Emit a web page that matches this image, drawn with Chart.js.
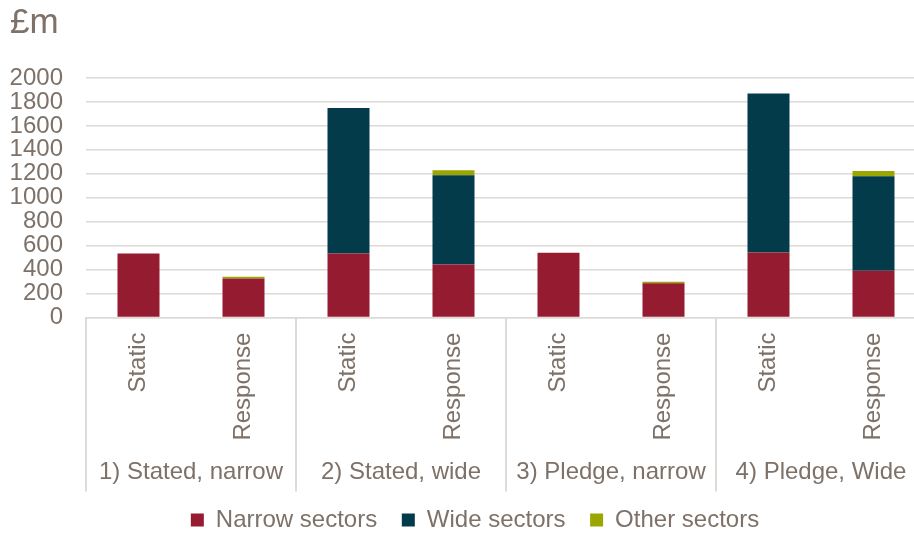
<!DOCTYPE html>
<html>
<head>
<meta charset="utf-8">
<script src="https://cdn.jsdelivr.net/npm/chart.js@4.4.1/dist/chart.umd.min.js"></script>
<style>
  html, body { margin: 0; padding: 0; background: #fff; overflow: hidden; width: 914px; height: 533px; }
  #wrap { position: relative; width: 930px; height: 547px; }
</style>
</head>
<body>
<div id="wrap"><canvas id="chart"></canvas></div>
<script>
// Scenario groups and the two methods shown within each group
const scenarios = ['1) Stated, narrow', '2) Stated, wide', '3) Pledge, narrow', '4) Pledge, Wide'];
const methods = ['Static', 'Response', 'Static', 'Response', 'Static', 'Response', 'Static', 'Response'];

// Values in £m, one per bar
const narrowSectors = [535, 325, 535, 443, 540, 287, 543, 390];
const wideSectors   = [0, 0, 1214, 745, 0, 0, 1327, 790];
const otherSectors  = [0, 16, 0, 42, 0, 12, 0, 44];

// Value axis
const yMin = 0;
const yMax = 2000;
const yStep = 200;

const textColor = '#7d7168';
const gridColor = '#dedad6';
const fontFamily = "'Liberation Sans', Arial, sans-serif";

// Vertical dividers between scenario groups, running through both label rows
const groupDividers = {
  id: 'groupDividers',
  afterDraw(chart, args, opts) {
    const g = chart.scales.x2;
    const area = chart.chartArea;
    const ctx = chart.ctx;
    const half = (g.getPixelForTick(1) - g.getPixelForTick(0)) / 2;
    const xs = [];
    for (let i = 0; i < scenarios.length; i++) xs.push(g.getPixelForTick(i) - half);
    xs.push(g.getPixelForTick(scenarios.length - 1) + half);
    ctx.save();
    ctx.strokeStyle = opts.color;
    ctx.lineWidth = opts.width;
    xs.forEach(x => {
      ctx.beginPath();
      ctx.moveTo(x, area.bottom);
      ctx.lineTo(x, g.bottom + 3);
      ctx.stroke();
    });
    ctx.restore();
  }
};

// Nudges the legend block after layout
const legendNudge = {
  id: 'legendNudge',
  afterLayout(chart, args, opts) {
    const lg = chart.legend;
    if (!lg) return;
    lg.left += opts.x; lg.right += opts.x;
    lg.top += opts.y; lg.bottom += opts.y;
  }
};

new Chart(document.getElementById('chart'), {
  type: 'bar',
  data: {
    labels: methods,
    datasets: [
      { label: 'Narrow sectors', data: narrowSectors, backgroundColor: '#951c30' },
      { label: 'Wide sectors',   data: wideSectors,   backgroundColor: '#033b4b' },
      { label: 'Other sectors',  data: otherSectors,  backgroundColor: '#9ba700' }
    ]
  },
  options: {
    responsive: true,
    maintainAspectRatio: false,
    devicePixelRatio: 1,
    animation: false,
    layout: { padding: { left: 10, right: 4, top: 0, bottom: 0 } },
    datasets: { bar: { barPercentage: 0.4, categoryPercentage: 1.0, borderWidth: 0 } },
    scales: {
      x: {
        stacked: true,
        offset: true,
        weight: 0,
        grid: { display: true, drawOnChartArea: false, drawTicks: false, color: gridColor },
        border: { display: true, color: gridColor, width: 1.5 },
        ticks: {
          color: textColor,
          font: { family: fontFamily, size: 24 },
          minRotation: 90,
          maxRotation: 90,
          autoSkip: false,
          padding: 15
        }
      },
      x2: {
        type: 'category',
        position: 'bottom',
        labels: scenarios,
        offset: true,
        weight: 1,
        grid: { display: false, drawTicks: false },
        border: { display: false },
        ticks: {
          color: textColor,
          font: { family: fontFamily, size: 24 },
          maxRotation: 0,
          autoSkip: false,
          padding: 2
        }
      },
      y: {
        stacked: true,
        min: yMin,
        max: yMax,
        grid: { color: gridColor, lineWidth: 1.5, drawTicks: false },
        border: { display: false },
        afterFit: scale => { scale.width = 76; },
        ticks: {
          stepSize: yStep,
          autoSkip: false,
          color: textColor,
          font: { family: fontFamily, size: 24, lineHeight: 1 },
          padding: 23,
          callback: v => String(v)
        }
      }
    },
    plugins: {
      title: {
        display: true,
        text: '£m',
        align: 'start',
        color: textColor,
        font: { family: fontFamily, size: 35, weight: 'normal' },
        padding: { top: 2, bottom: 34 }
      },
      legend: {
        position: 'bottom',
        labels: {
          color: textColor,
          font: { family: fontFamily, size: 24 },
          boxWidth: 13,
          boxHeight: 13,
          padding: 24.6
        }
      },
      tooltip: { enabled: false },
      groupDividers: { color: gridColor, width: 2 },
      legendNudge: { x: 7, y: -5 }
    }
  },
  plugins: [groupDividers, legendNudge]
});
</script>
</body>
</html>
